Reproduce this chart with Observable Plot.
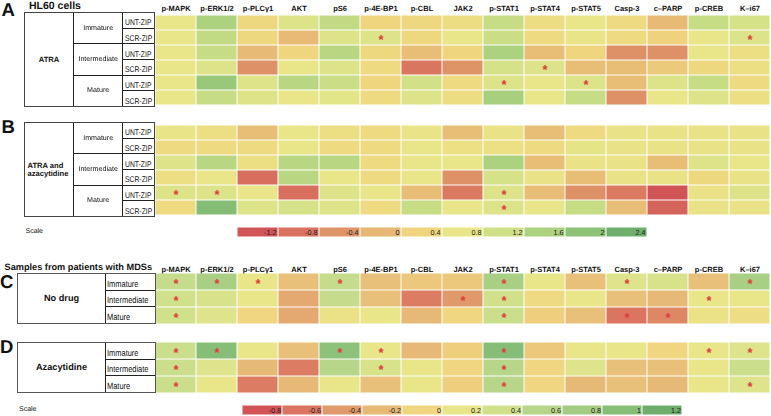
<!DOCTYPE html>
<html>
<head>
<meta charset="utf-8">
<script src="https://cdn.jsdelivr.net/npm/d3@7"></script>
<script src="https://cdn.jsdelivr.net/npm/@observablehq/plot@0.6"></script>
<style>
  html, body { margin: 0; padding: 0; background: #fff; }
  #fig { position: relative; width: 771px; height: 416px; overflow: hidden; font-family: "Liberation Sans", Arial, sans-serif; color: #111;
         -webkit-font-smoothing: antialiased; text-rendering: geometricPrecision; }
  .txt { position: absolute; white-space: nowrap; line-height: 1; }
  .tbl { position: absolute; display: grid; box-sizing: border-box; border: 1.5px solid #444; background: #222; gap: 1px; }
  .tbl > div { background: #fff; display: flex; overflow: hidden; white-space: nowrap; line-height: 1;
               font-family: "Liberation Sans", Arial, sans-serif; color: #111; }
  .grp { font-weight: bold; }
  .narrow { display: inline-block; transform: scaleX(0.82); color: #111; }
  .stage { display: inline-block; transform: translateZ(0); color: #111; }
</style>
</head>
<body>
<div id="fig"></div>
<script>
// ---------- data ----------
const columns = ["p-MAPK","p-ERK1/2","p-PLCγ1","AKT","pS6","p-4E-BP1","p-CBL","JAK2","p-STAT1","p-STAT4","p-STAT5","Casp-3","c–PARP","p-CREB","K–i67"];
const hl60Stages = ["Immature","Intermediate","Mature"];
const zipLabels = ["UNT-ZIP","SCR-ZIP"];
const mdsStages = ["Immature","Intermediate","Mature"];

// Panel A: HL60 cells, ATRA (rows: Immature UNT/SCR, Intermediate UNT/SCR, Mature UNT/SCR)
const valuesA = [
  [0.8, 1.6, 0.45, 1.0, 1.35, 0.4, 0.45, 0.55, 1.3, 0.55, 0.8, 0.5, 0.05, 1.3, 1.1],
  [0.8, 1.35, 0.45, 0.05, 1.0, 1.0, 0.45, 0.8, 1.25, 0.5, 0.75, 0.5, 0.35, 0.8, 1.0],
  [0.8, 1.3, 0.05, 0.4, 1.45, 0.45, 0.1, 0.4, 1.6, 0.1, 0.4, -0.45, -0.45, 0.8, 0.6],
  [0.8, 1.0, -0.45, 0.8, 1.0, 0.5, -0.75, -0.4, 1.1, 1.0, 0.1, 0.1, 0.25, 0.45, 0.6],
  [0.8, 1.85, 1.0, 1.45, 1.25, 0.4, 1.15, 0.5, 1.0, 0.8, 1.0, 0.1, 1.0, 1.3, 0.5],
  [0.8, 1.3, 1.0, 0.8, 0.9, 0.5, 1.0, 0.55, 1.65, 0.8, 1.3, -0.45, 0.8, 1.0, 0.6]
];
const starsA = [[], ["p-4E-BP1","K–i67"], [], ["p-STAT4"], ["p-STAT1","p-STAT5"], []];

// Panel B: HL60 cells, ATRA and azacytidine
const valuesB = [
  [0.75, 0.6, 0.1, 0.8, 0.6, 0.5, 0.75, 0.1, 0.7, 0.1, 0.5, 0.7, 0.7, 0.7, 0.7],
  [0.5, 0.5, 0.5, 0.8, 0.5, 0.5, 0.8, 0.65, 0.65, 0.5, 0.85, 0.7, 0.7, 0.7, 0.7],
  [1.0, 1.45, 0.6, 1.45, 1.45, 0.5, 0.8, 0.8, 1.6, 0.1, 0.7, 0.7, 0.1, 1.0, 0.8],
  [0.6, 0.8, -0.85, 1.45, 0.8, 0.5, 0.8, -0.45, 1.1, 0.7, 0.1, 0.7, 0.7, 0.45, 0.7],
  [1.0, 1.0, 0.8, -0.85, 1.0, 0.8, 0.1, -0.7, 1.0, 0.1, -0.45, -0.7, -1.2, 0.7, 1.0],
  [0.5, 2.1, 1.0, 1.1, 1.0, 0.5, 1.3, 0.8, 1.0, 0.8, 1.3, 0.1, -1.0, 0.7, 0.7]
];
const starsB = [[], [], [], [], ["p-MAPK","p-ERK1/2","p-STAT1"], ["p-STAT1"]];

// Panel C: MDS samples, no drug
const valuesC = [
  [0.5, 0.75, 0.2, -0.15, 0.5, -0.15, -0.1, -0.1, 0.75, 0.2, -0.15, 0.3, 0.35, -0.15, 0.75],
  [0.4, 0.35, 0.2, -0.3, 0.5, -0.15, -0.55, -0.4, 0.4, 0.05, 0.2, -0.15, -0.2, 0.2, 0.2],
  [0.4, 0.3, 0.0, -0.3, 0.15, 0.2, -0.2, 0.0, 0.45, -0.05, -0.15, -0.6, -0.5, 0.15, 0.1]
];
const starsC = [["p-MAPK","p-ERK1/2","p-PLCγ1","pS6","p-STAT1","Casp-3","K–i67"],
                ["p-MAPK","JAK2","p-STAT1","p-CREB"],
                ["p-MAPK","p-STAT1","Casp-3","c–PARP"]];

// Panel D: MDS samples, azacytidine
const valuesD = [
  [0.45, 1.0, 0.2, -0.15, 0.95, 0.2, -0.2, -0.05, 1.0, -0.1, 0.2, 0.2, 0.0, 0.2, 0.3],
  [0.45, 0.3, -0.2, -0.55, 0.6, 0.35, 0.2, 0.0, 0.6, 0.0, 0.3, -0.15, -0.15, 0.2, 0.45],
  [0.45, 0.2, -0.55, -0.2, 0.2, -0.15, 0.2, -0.05, 0.6, 0.0, -0.2, -0.15, -0.2, 0.2, 0.3]
];
const starsD = [["p-MAPK","p-ERK1/2","pS6","p-4E-BP1","p-STAT1","p-CREB","K–i67"],
                ["p-MAPK","p-4E-BP1","p-STAT1"],
                ["p-MAPK","p-STAT1","K–i67"]];

// Scales (legend ticks and their colours)
const scale1Values = [-1.2, -0.8, -0.4, 0, 0.4, 0.8, 1.2, 1.6, 2, 2.4];
const scale1Colors = ["#d05456","#d8725f","#df9467","#e6b675","#efd67e","#e8e688","#cfe087","#acd17f","#8ec279","#6fae6c"];
const scale2Values = [-0.8, -0.6, -0.4, -0.2, 0, 0.2, 0.4, 0.6, 0.8, 1, 1.2];
const scale2Colors = ["#d35457","#db7460","#e0996a","#e6b977","#f0d680","#e9e68a","#d1e18b","#b7d68a","#a3cc82","#86be78","#6fad6c"];

// ---------- drawing ----------
const fig = document.getElementById("fig");
const FONT = "'Liberation Sans', Arial, sans-serif";

function put(node, left, top) {
  node.style.position = "absolute";
  node.style.left = left + "px";
  node.style.top = top + "px";
  fig.appendChild(node);
  return node;
}
function text(str, left, top, css) {
  const d = document.createElement("div");
  d.className = "txt";
  d.textContent = str;
  Object.assign(d.style, css || {});
  return put(d, left, top);
}

function heatmap(values, stars, rowKeys, sv, sc, height, marginTop, withAxis) {
  const data = rowKeys.flatMap((r, i) => columns.map((c, j) => ({row: r, col: c, value: values[i][j], star: stars[i].includes(c)})));
  const marks = [
    Plot.cell(data, {x: "col", y: "row", fill: "value", inset: 0.5}),
    Plot.text(data.filter(d => d.star), {x: "col", y: "row", text: () => "*", fill: "#e03c3c", fontSize: 13, fontWeight: "bold", dy: 2})
  ];
  if (withAxis) marks.push(Plot.axisX({anchor: "top", tickSize: 0, tickPadding: 2, fontSize: 7.5, fontWeight: "bold", label: null}));
  return Plot.plot({
    width: 771, height, marginTop, marginBottom: 0, marginLeft: 155, marginRight: 1,
    x: {domain: columns, padding: 0, ...(withAxis ? {} : {axis: null})},
    y: {domain: rowKeys, padding: 0, axis: null},
    color: {type: "linear", domain: sv, range: sc, clamp: true},
    style: {fontFamily: FONT, background: "transparent", overflow: "visible", color: "#111"},
    marks
  });
}

function legend(sv, sc, marginRight) {
  const bw = (771 - 237 - marginRight) / sv.length;
  return Plot.plot({
    width: 771, height: 10, marginTop: 0, marginBottom: 0, marginLeft: 237, marginRight,
    x: {type: "band", domain: sv, padding: 0, axis: null},
    color: {type: "linear", domain: sv, range: sc},
    style: {fontFamily: FONT, background: "transparent", overflow: "visible"},
    marks: [
      Plot.cell(sv, {x: d => d, fill: d => d, inset: 0.5}),
      Plot.text(sv, {x: d => d, text: d => String(d), textAnchor: "end", dx: bw / 2 - 2, fill: "#222", fontSize: 7.2})
    ]
  });
}

function cell(parent, label, row, rowSpan, col, css, spanClass, origin) {
  const d = document.createElement("div");
  if (spanClass) {
    const s = document.createElement("span");
    s.className = spanClass;
    s.textContent = label;
    if (origin) s.style.transformOrigin = origin;
    d.appendChild(s);
  } else {
    d.innerHTML = label;
  }
  d.style.gridRow = `${row} / span ${rowSpan}`;
  d.style.gridColumn = `${col}`;
  Object.assign(d.style, css || {});
  parent.appendChild(d);
  return d;
}

function tableHL60(top, height, groupLabel, groupCss) {
  const t = document.createElement("div");
  t.className = "tbl";
  const nRows = hl60Stages.length * zipLabels.length;
  Object.assign(t.style, {width: "131px", height: height + "px", gridTemplateColumns: "48px 48.3px 1fr", gridTemplateRows: `repeat(${nRows}, 1fr)`});
  const g = cell(t, groupLabel, 1, nRows, 1, Object.assign({fontSize: "7.6px", alignItems: "center"}, groupCss));
  g.classList.add("grp");
  hl60Stages.forEach((s, i) => {
    cell(t, s, i * 2 + 1, 2, 2, {fontSize: "7.1px", alignItems: "center", justifyContent: "center"}, "stage");
    zipLabels.forEach((z, k) => cell(t, z, i * 2 + k + 1, 1, 3, {fontSize: "8.3px", alignItems: "flex-end", paddingLeft: "1.5px", paddingBottom: "1px"}, "narrow", "left bottom"));
  });
  return put(t, 24, top);
}

function tableMDS(top, groupLabel) {
  const t = document.createElement("div");
  t.className = "tbl";
  t.style.borderColor = "#555";
  Object.assign(t.style, {width: "138.5px", height: "51px", gridTemplateColumns: "87px 1fr", gridTemplateRows: `repeat(${mdsStages.length}, 1fr)`});
  const g = cell(t, groupLabel, 1, mdsStages.length, 1, {fontSize: "9.2px", alignItems: "center", justifyContent: "center"});
  g.classList.add("grp");
  mdsStages.forEach((s, i) => cell(t, s, i + 1, 1, 2, {fontSize: "9.1px", alignItems: "flex-end", paddingLeft: "1px", paddingBottom: "1px"}, "narrow", "left bottom"));
  return put(t, 17, top);
}

// Panel A
const rowKeysHL60 = hl60Stages.flatMap(s => zipLabels.map(z => s + " " + z));
put(heatmap(valuesA, starsA, rowKeysHL60, scale1Values, scale1Colors, 107, 12, true), 0, 0);
tableHL60(12, 95, "ATRA", {justifyContent: "center"});
text("A", 1.5, 1, {fontWeight: "bold", fontSize: "18.5px"});
text("HL60 cells", 29, 0.6, {fontWeight: "bold", fontSize: "10.5px"});

// Panel B
put(heatmap(valuesB, starsB, rowKeysHL60, scale1Values, scale1Colors, 95, 0, false), 0, 122);
tableHL60(122, 95, "ATRA and<br>azacytidine", {justifyContent: "flex-start", paddingLeft: "2.5px", lineHeight: "1.05"});
text("B", 1.5, 117.6, {fontWeight: "bold", fontSize: "18.5px"});

// Scale 1
put(legend(scale1Values, scale1Colors, 124), 0, 227);
text("Scale", 25.5, 228.3, {fontSize: "7px"});

// Panel C
put(heatmap(valuesC, starsC, mdsStages, scale2Values, scale2Colors, 63, 12, true), 0, 261);
tableMDS(273, "No drug");
text("C", 0, 272.6, {fontWeight: "bold", fontSize: "18.5px"});
text("Samples from patients with MDSs", 4.5, 262.5, {fontWeight: "bold", fontSize: "9.2px"});

// Panel D
put(heatmap(valuesD, starsD, mdsStages, scale2Values, scale2Colors, 51, 0, false), 0, 342);
tableMDS(342, "Azacytidine");
text("D", 0, 338.3, {fontWeight: "bold", fontSize: "18.5px"});

// Scale 2
put(legend(scale2Values, scale2Colors, 85), 0, 405);
text("Scale", 19, 406.4, {fontSize: "7px"});
</script>
</body>
</html>
